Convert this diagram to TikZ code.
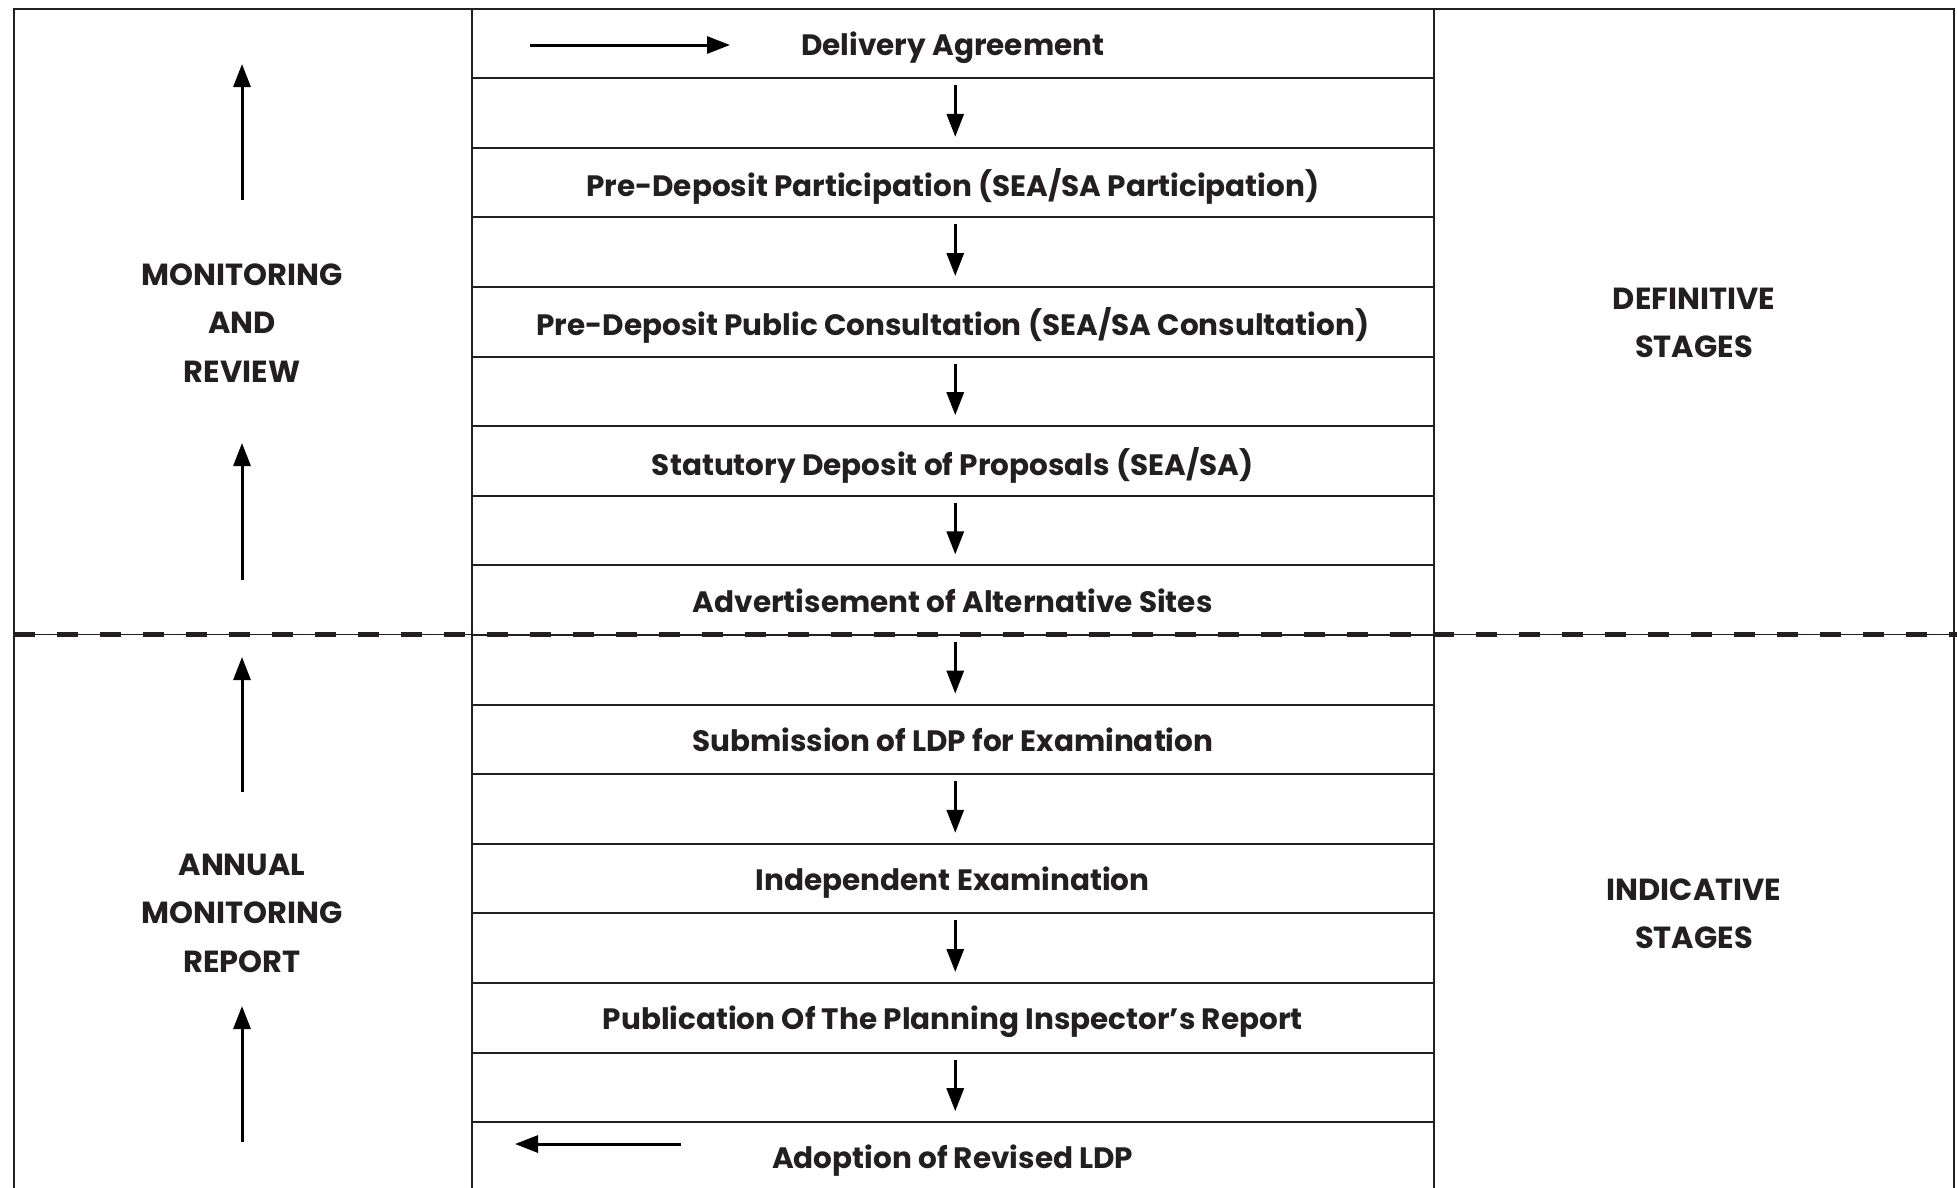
\documentclass[tikz,border=0pt]{standalone}
\usepackage{fontspec}
\setmainfont{Poppins}
\usetikzlibrary{arrows.meta}
\definecolor{ink}{HTML}{231F20}
\begin{document}
\begin{tikzpicture}[x=1pt,y=-1pt,
  grid/.style={draw=ink, line width=2pt},
  cell/.style={grid, minimum width=962.5pt, minimum height=69.6pt, inner sep=0pt,
    text depth=0pt, font=\bfseries\fontsize{29.5}{34}\selectfont, text=ink},
  side/.style={align=center, inner sep=0pt, font=\bfseries\fontsize{30.5}{48.5}\selectfont, text=ink},
  flow/.style={line width=3pt, -{Triangle[length=23pt,width=17pt]}},
]
\useasboundingbox (0,0) rectangle (1957,1187);
\def\t{8.6}\def\h{69.6}\def\cx{952.75}
% outer frame
\draw[grid] (13.5,1195) -- (13.5,\t) -- (1954,\t) -- (1954,1195);
% middle column cells
\node[cell] (r0) at (\cx,{\t+0.5*\h}) {Delivery Agreement};
\node[cell] (r2) at (\cx,{\t+2.5*\h}) {Pre-Deposit Participation (SEA/SA Participation)};
\node[cell] (r4) at (\cx,{\t+4.5*\h}) {Pre-Deposit Public Consultation (SEA/SA Consultation)};
\node[cell] (r6) at (\cx,{\t+6.5*\h}) {Statutory Deposit of Proposals (SEA/SA)};
\node[cell] (r8) at (\cx,{\t+8.5*\h}) {Advertisement of Alternative Sites};
\node[cell] (r10) at (\cx,{\t+10.5*\h}) {Submission of LDP for Examination};
\node[cell] (r12) at (\cx,{\t+12.5*\h}) {Independent Examination};
\node[cell] (r14) at (\cx,{\t+14.5*\h}) {Publication Of The Planning Inspector’s Report};
\node[cell] (r16) at (\cx,{\t+16.5*\h}) {Adoption of Revised LDP};
\foreach \i in {1,3,...,15}{
  \node[cell] (a\i) at (\cx,{\t+(\i+0.5)*\h}) {};
  \draw[flow] ([xshift=2.5pt,yshift=-8pt]a\i.north) -- ([xshift=2.5pt,yshift=12pt]a\i.south);
}
% dashed divider
\coordinate (dl) at (13.5,634.7);
\coordinate (dr) at (1957,634.7);
\draw[ink, line width=1.3pt] (dl) -- (dr);
\draw[ink, line width=5pt, dash pattern=on 21pt off 22pt] (dl) -- (dr);
% side labels
\node[side] (mr) at (242,323) {MONITORING\\AND\\REVIEW};
\node[side] (amr) at (242,913) {ANNUAL\\MONITORING\\REPORT};
\node[side] (def) at (1694,323) {DEFINITIVE\\STAGES};
\node[side] (ind) at (1694,914) {INDICATIVE\\STAGES};
% side arrows
\coordinate (u1s) at (242,200); \coordinate (u1e) at (242,64);
\coordinate (u2s) at (242,580); \coordinate (u2e) at (242,443);
\coordinate (u3s) at (242,792); \coordinate (u3e) at (242,657);
\coordinate (u4s) at (242,1142); \coordinate (u4e) at (242,1006);
\foreach \k in {1,...,4}{\draw[flow] (u\k s) -- (u\k e);}
% horizontal arrows
\coordinate (hs) at (530,45); \coordinate (he) at (730,45);
\draw[flow] (hs) -- (he);
\coordinate (bs) at (681,1144); \coordinate (be) at (515,1144);
\draw[flow] (bs) -- (be);
\end{tikzpicture}
\end{document}
